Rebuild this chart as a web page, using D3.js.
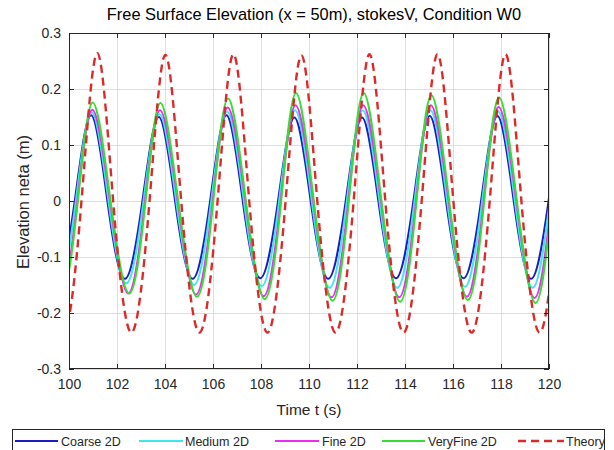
<!DOCTYPE html>
<html><head><meta charset="utf-8">
<script src="https://cdn.jsdelivr.net/npm/d3@7/dist/d3.min.js"></script>
<style>
body{margin:0;background:#fff}
svg{display:block}
text{font-family:"Liberation Sans",Arial,Helvetica,sans-serif;fill:#262626}
</style>
</head><body>
<svg id="chart" width="614" height="450"></svg>
<script>
// ---- data ----
const xTicks = [100,102,104,106,108,110,112,114,116,118,120];
const yTicks = [-0.3,-0.2,-0.1,0,0.1,0.2,0.3];
const yTickLabels = ["-0.3","-0.2","-0.1","0","0.1","0.2","0.3"];
const seriesNames = ["Coarse 2D","Medium 2D","Fine 2D","VeryFine 2D","Theory"];

// key points (zero crossings, troughs, crests) of each trace
const coarseT = [98.78,99.51,100.24,100.92,101.60,102.33,103.06,103.74,104.42,105.15,105.88,106.56,107.24,107.97,108.71,109.39,110.07,110.80,111.53,112.21,112.89,113.62,114.35,115.03,115.71,116.44,117.17,117.85,118.53,119.26,119.99,120.67,121.35];
const coarseY = [0,-0.138,0,0.153,0,-0.139,0,0.150,0,-0.139,0,0.153,0,-0.138,0,0.149,0,-0.139,0,0.149,0,-0.138,0,0.152,0,-0.138,0,0.152,0,-0.139,0.003,0.152,0];

const mediumT = [98.855,99.57,100.285,100.95,101.645,102.39,103.105,103.77,104.465,105.21,105.925,106.59,107.285,108.03,108.755,109.42,110.115,110.86,111.575,112.24,112.935,113.68,114.395,115.06,115.755,116.50,117.215,117.88,118.575,119.32,120.035,120.70,121.38];
const mediumY = [0,-0.147,0,0.158,0,-0.147,0,0.155,0,-0.150,0,0.160,0,-0.152,0,0.162,0,-0.155,0,0.162,0,-0.155,0,0.162,0,-0.153,0,0.160,0,-0.155,0,0.160,0];

const fineT = [98.95,99.65,100.35,100.97,101.71,102.47,103.17,103.79,104.53,105.29,105.99,106.61,107.35,108.11,108.82,109.44,110.18,110.94,111.64,112.26,113.00,113.76,114.46,115.08,115.82,116.58,117.28,117.90,118.64,119.40,120.10,120.72,121.46];
const fineY = [0,-0.163,0,0.163,0,-0.165,0,0.162,0,-0.167,0,0.167,0,-0.170,0,0.171,0,-0.172,0,0.171,0,-0.172,0,0.171,0,-0.171,0,0.168,0,-0.173,0,0.168,0];

const veryFineT = [99.01,99.69,100.37,100.99,101.73,102.51,103.19,103.81,104.55,105.33,106.01,106.63,107.37,108.15,108.84,109.46,110.20,110.98,111.66,112.28,113.02,113.80,114.48,115.10,115.84,116.62,117.30,117.92,118.66,119.44,120.12,120.74,121.48];
const veryFineY = [0,-0.165,0,0.176,0,-0.165,0,0.175,0,-0.171,0,0.183,0,-0.175,0,0.193,0,-0.178,0,0.193,0,-0.180,0,0.189,0,-0.177,0,0.185,0,-0.182,0,0.185,0];

const theoryT = [99.01,99.765,100.52,101.18,101.84,102.60,103.355,104.015,104.675,105.435,106.19,106.85,107.51,108.27,109.025,109.685,110.345,111.105,111.86,112.52,113.18,113.94,114.695,115.355,116.015,116.775,117.53,118.19,118.85,119.61,120.365,121.025,121.685];
const theoryY = [0,-0.235,0,0.264,0,-0.235,0,0.261,0,-0.235,0,0.262,0,-0.235,0,0.260,0,-0.235,0,0.262,0,-0.235,0,0.262,0,-0.235,0,0.262,0,-0.235,0,0.262,0];

const seriesColors = ["#1c1cc0","#3ee6ee","#ee2cee","#36dd36","#dc2a2a"];

// ---- drawing ----
const svg = d3.select("#chart");
const W = 614, H = 450;
const L = 69, R = 549, T = 33, B = 369;
svg.append("rect").attr("width",W).attr("height",H).attr("fill","#fff");

const x = d3.scaleLinear().domain([100,120]).range([L,R]);
const y = d3.scaleLinear().domain([-0.3,0.3]).range([B,T]);

// grid
const grid = svg.append("g").attr("stroke","#dedede").attr("stroke-width",1);
grid.selectAll(".gx").data(xTicks).join("line")
  .attr("x1",d=>Math.round(x(d))+0.5).attr("x2",d=>Math.round(x(d))+0.5).attr("y1",T).attr("y2",B);
grid.selectAll(".gy").data(yTicks).join("line")
  .attr("y1",d=>Math.round(y(d))+0.5).attr("y2",d=>Math.round(y(d))+0.5).attr("x1",L).attr("x2",R);

// series
svg.append("clipPath").attr("id","clip").append("rect")
  .attr("x",L).attr("y",T).attr("width",R-L).attr("height",B-T);
const allSeries = [
  [coarseT,coarseY],[mediumT,mediumY],[fineT,fineY],[veryFineT,veryFineY],[theoryT,theoryY]
];
const line = d3.line().x(d=>x(d[0])).y(d=>y(d[1])).curve(d3.curveNatural);
const plot = svg.append("g").attr("clip-path","url(#clip)");
allSeries.forEach((s,i)=>{
  const pts = s[0].map((t,j)=>[t,s[1][j]]);
  plot.append("path").datum(pts).attr("d",line)
    .attr("fill","none").attr("stroke",seriesColors[i])
    .attr("stroke-width", i===4 ? 2.4 : 2)
    .attr("stroke-dasharray", i===4 ? "8,5" : null)
    .attr("stroke-linejoin","round");
});

// axes (MATLAB style, ticks inward, box)
const fmtY = d => yTickLabels[yTicks.indexOf(d)];
const axB = svg.append("g").attr("transform",`translate(0,${B})`)
  .call(d3.axisBottom(x).tickValues(xTicks).tickSize(-5).tickPadding(10).tickFormat(d=>String(d)));
const axT = svg.append("g").attr("transform",`translate(0,${T})`)
  .call(d3.axisTop(x).tickValues(xTicks).tickSize(-5).tickFormat(""));
const axL = svg.append("g").attr("transform",`translate(${L},0)`)
  .call(d3.axisLeft(y).tickValues(yTicks).tickSize(-5).tickPadding(8).tickFormat(fmtY));
const axR = svg.append("g").attr("transform",`translate(${R},0)`)
  .call(d3.axisRight(y).tickValues(yTicks).tickSize(-5).tickFormat(""));
[axB,axT,axL,axR].forEach(a=>{
  a.select(".domain").remove();
  a.selectAll(".tick line").attr("stroke","#262626");
  a.selectAll(".tick text").attr("font-size",14).attr("fill","#262626")
    .style("font-family","'Liberation Sans',Arial,sans-serif");
});
svg.append("rect").attr("x",L+0.5).attr("y",T+0.5).attr("width",R-L-1).attr("height",B-T-1)
  .attr("fill","none").attr("stroke","#262626").attr("stroke-width",1);

// title and labels
svg.append("text").attr("x",(L+R)/2+5).attr("y",20).attr("text-anchor","middle")
  .attr("font-size",16.4).style("fill","#000").text("Free Surface Elevation (x = 50m), stokesV, Condition W0");
svg.append("text").attr("x",(L+R)/2).attr("y",415).attr("text-anchor","middle")
  .attr("font-size",15.5).text("Time t (s)");
svg.append("text").attr("transform",`translate(29,${(T+B)/2+1}) rotate(-90)`).attr("text-anchor","middle")
  .attr("font-size",16.5).text("Elevation neta (m)");

// legend
const lg = svg.append("g");
lg.append("rect").attr("x",12.5).attr("y",429.5).attr("width",592).attr("height",30)
  .attr("fill","#fff").attr("stroke","#262626").attr("stroke-width",1);
const legendPos = [[15,58,61],[139,183,185],[275,319,322],[382,425,428],[518,564,566]];
seriesNames.forEach((n,i)=>{
  const p = legendPos[i];
  lg.append("line").attr("x1",p[0]).attr("x2",p[1]).attr("y1",441).attr("y2",441)
    .attr("stroke",seriesColors[i]).attr("stroke-width", i===4 ? 2.4 : 2)
    .attr("stroke-dasharray", i===4 ? "8,5" : null);
  lg.append("text").attr("x",p[2]).attr("y",445.5).attr("font-size",12.5).text(n);
});
</script>
</body></html>
